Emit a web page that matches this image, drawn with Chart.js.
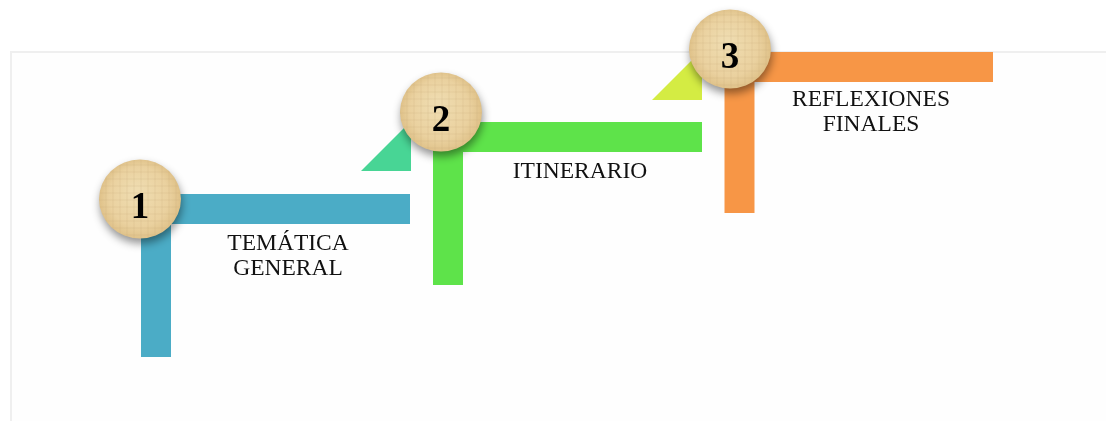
<!DOCTYPE html>
<html>
<head>
<meta charset="utf-8">
<script src="https://cdn.jsdelivr.net/npm/chart.js@4.4.1/dist/chart.umd.min.js"></script>
<style>
  html, body { margin: 0; padding: 0; background: #ffffff; }
  #wrap { position: relative; width: 1106px; height: 421px; overflow: hidden; }
  #panel { position: absolute; left: 10px; top: 51px; width: 1100px; height: 380px;
           border-top: 2px solid #efefef; border-left: 2px solid #efefef; background: #fefefe; }
  #c { position: absolute; left: 0; top: 0; }
</style>
</head>
<body>
<div id="wrap">
  <div id="panel"></div>
  <canvas id="c" width="1106" height="421"></canvas>
</div>
<script>
// ---- data (diagram coordinates, in axis units) ----
const steps        = ["1", "2", "3"];
const stepLabels   = [["TEMÁTICA", "GENERAL"], ["ITINERARIO"], ["REFLEXIONES", "FINALES"]];
const stemX        = [156, 448, 739.5];   // x of vertical stem
const stemBottomY  = [357, 285, 213];     // bottom of vertical stem
const armY         = [209, 137, 67];      // y of horizontal arm
const armEndX      = [410, 702, 993];     // right end of horizontal arm
const circleX      = [140, 441, 730];
const circleY      = [199, 112, 49];
const labelX       = [288, 580, 871];
const labelY       = [250, 178, 106];     // first-line baseline
const triLeftX     = [null, 361, 652];
const triRightX    = [null, 411, 702];
const triBaseY     = [null, 171, 100];
const triTopY      = [null, 121, 50];

const stepColors = ["#4BACC6", "#5EE34A", "#F79646"];
const triColors  = [null, "#48D595", "#D4EC43"];

const datasets = [];
for (let i = 0; i < steps.length; i++) {
  if (triLeftX[i] !== null) {
    datasets.push({
      type: "line",
      data: [{x: triLeftX[i], y: triBaseY[i]}, {x: triRightX[i], y: triTopY[i]}],
      borderWidth: 0,
      borderColor: triColors[i],
      backgroundColor: triColors[i],
      pointRadius: 0,
      fill: {value: triBaseY[i]},
      order: 3
    });
  }
}
for (let i = 0; i < steps.length; i++) {
  datasets.push({
    type: "line",
    data: [{x: stemX[i], y: stemBottomY[i]}, {x: stemX[i], y: armY[i]}, {x: armEndX[i], y: armY[i]}],
    borderColor: stepColors[i],
    borderWidth: 30,
    borderCapStyle: "butt",
    borderJoinStyle: "miter",
    pointRadius: 0,
    tension: 0,
    fill: false,
    order: 2
  });
}
datasets.push({
  type: "scatter",
  data: circleX.map((x, i) => ({x: x, y: circleY[i]})),
  pointRadius: 0,
  order: 1
});

const overlay = {
  id: "overlay",
  afterDatasetsDraw(chart) {
    const ctx = chart.ctx;
    const xs = chart.scales.x, ys = chart.scales.y;
    for (let i = 0; i < steps.length; i++) {
      const cx = xs.getPixelForValue(circleX[i]);
      const cy = ys.getPixelForValue(circleY[i]);
      const rx = 41, ry = 39.5;
      ctx.save();
      ctx.shadowColor = "rgba(0,0,0,0.42)";
      ctx.shadowBlur = 9;
      ctx.shadowOffsetX = 1;
      ctx.shadowOffsetY = 5;
      const g = ctx.createRadialGradient(cx - 4, cy - 8, 4, cx, cy, rx);
      g.addColorStop(0, "#efdcb0");
      g.addColorStop(0.7, "#ead19f");
      g.addColorStop(1, "#dfc188");
      ctx.beginPath();
      ctx.ellipse(cx, cy, rx, ry, 0, 0, Math.PI * 2);
      ctx.fillStyle = g;
      ctx.fill();
      ctx.restore();
      // faint parchment texture
      ctx.save();
      ctx.beginPath();
      ctx.ellipse(cx, cy, rx, ry, 0, 0, Math.PI * 2);
      ctx.clip();
      ctx.strokeStyle = "rgba(200,170,115,0.10)";
      ctx.lineWidth = 2;
      for (let k = -rx; k <= rx; k += 7) {
        ctx.beginPath(); ctx.moveTo(cx - rx, cy + k); ctx.lineTo(cx + rx, cy + k); ctx.stroke();
        ctx.beginPath(); ctx.moveTo(cx + k, cy - ry); ctx.lineTo(cx + k, cy + ry); ctx.stroke();
      }
      ctx.restore();
      // number
      ctx.save();
      ctx.fillStyle = "#000000";
      ctx.font = "bold 37px 'Liberation Serif', 'Times New Roman', serif";
      ctx.textAlign = "center";
      ctx.textBaseline = "alphabetic";
      ctx.fillText(steps[i], cx, cy + 19);
      ctx.restore();
      // label
      ctx.save();
      ctx.fillStyle = "#111111";
      ctx.font = "23.5px 'Liberation Serif', 'Times New Roman', serif";
      ctx.textAlign = "center";
      ctx.textBaseline = "alphabetic";
      const lx = xs.getPixelForValue(labelX[i]);
      stepLabels[i].forEach((t, j) => {
        ctx.fillText(t, lx, ys.getPixelForValue(labelY[i] + j * 25));
      });
      ctx.restore();
    }
  }
};

new Chart(document.getElementById("c"), {
  type: "line",
  data: { datasets: datasets },
  options: {
    responsive: false,
    animation: false,
    devicePixelRatio: 1,
    layout: { padding: 0 },
    plugins: { legend: { display: false }, tooltip: { enabled: false } },
    scales: {
      x: { type: "linear", min: 0, max: 1106, display: false },
      y: { type: "linear", min: 0, max: 421, reverse: true, display: false }
    }
  },
  plugins: [overlay]
});
</script>
</body>
</html>
